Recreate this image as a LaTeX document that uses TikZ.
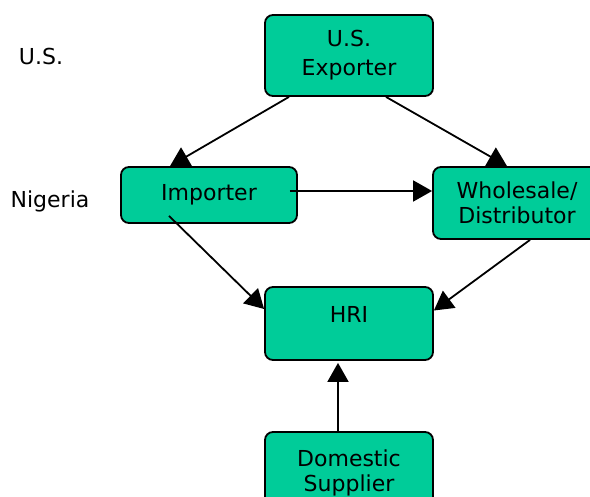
\documentclass[tikz,border=0pt]{standalone}
\usepackage{fontspec}
\setmainfont{DejaVu Sans}
\usetikzlibrary{arrows.meta,calc}
\definecolor{boxgreen}{HTML}{00CC99}
\tikzset{
  box/.style={draw=black, line width=1.8pt, fill=boxgreen, rounded corners=8pt,
    minimum width=168pt, inner sep=0pt, align=center,
    font=\fontsize{22}{25}\selectfont},
  side/.style={font=\fontsize{22}{25}\selectfont, inner sep=0pt, anchor=base},
  flow/.style={line width=1.8pt, -{Triangle[length=19pt,width=21pt]}}
}
\begin{document}
\begin{tikzpicture}[x=1pt,y=-1pt]
\clip (0,0) rectangle (590,497);
\node[side] (lus) at (41,65) {U.S.};
\node[side] (lng) at (50,208) {Nigeria};
\node[box, minimum height=81pt] (exp) at (349,55.5) {U.S.\\[4pt]Exporter};
\node[box, minimum height=56pt, minimum width=176pt] (imp) at (209,195) {Importer};
\node[box, minimum height=72pt] (whs) at (517,203) {Wholesale/\\Distributor};
\node[box, minimum height=73pt, text height=16pt, text depth=17pt] (hri) at (349,323.5) {HRI};
\node[box, minimum height=81pt] (dom) at (349,472.5) {Domestic\\Supplier};
\draw[flow] ($(exp.south)+(-60,0)$) -- ($(imp.north)+(-39,0)$);
\draw[flow] ($(exp.south)+(37,0)$) -- ($(whs.north)+(-10,0)$);
\draw[flow] ($(imp.east)+(-8,-4)$) coordinate (ia) -- (whs.west |- ia);
\draw[flow] ($(imp.south)+(-40,-8)$) -- ($(hri.west)+(0,-14.5)$);
\draw[flow] ($(whs.south)+(13,0)$) -- ($(hri.east)+(0,-13)$);
\draw[flow] ($(dom.north)+(-11,0)$) -- ($(hri.south)+(-11,2)$);
\end{tikzpicture}
\end{document}
